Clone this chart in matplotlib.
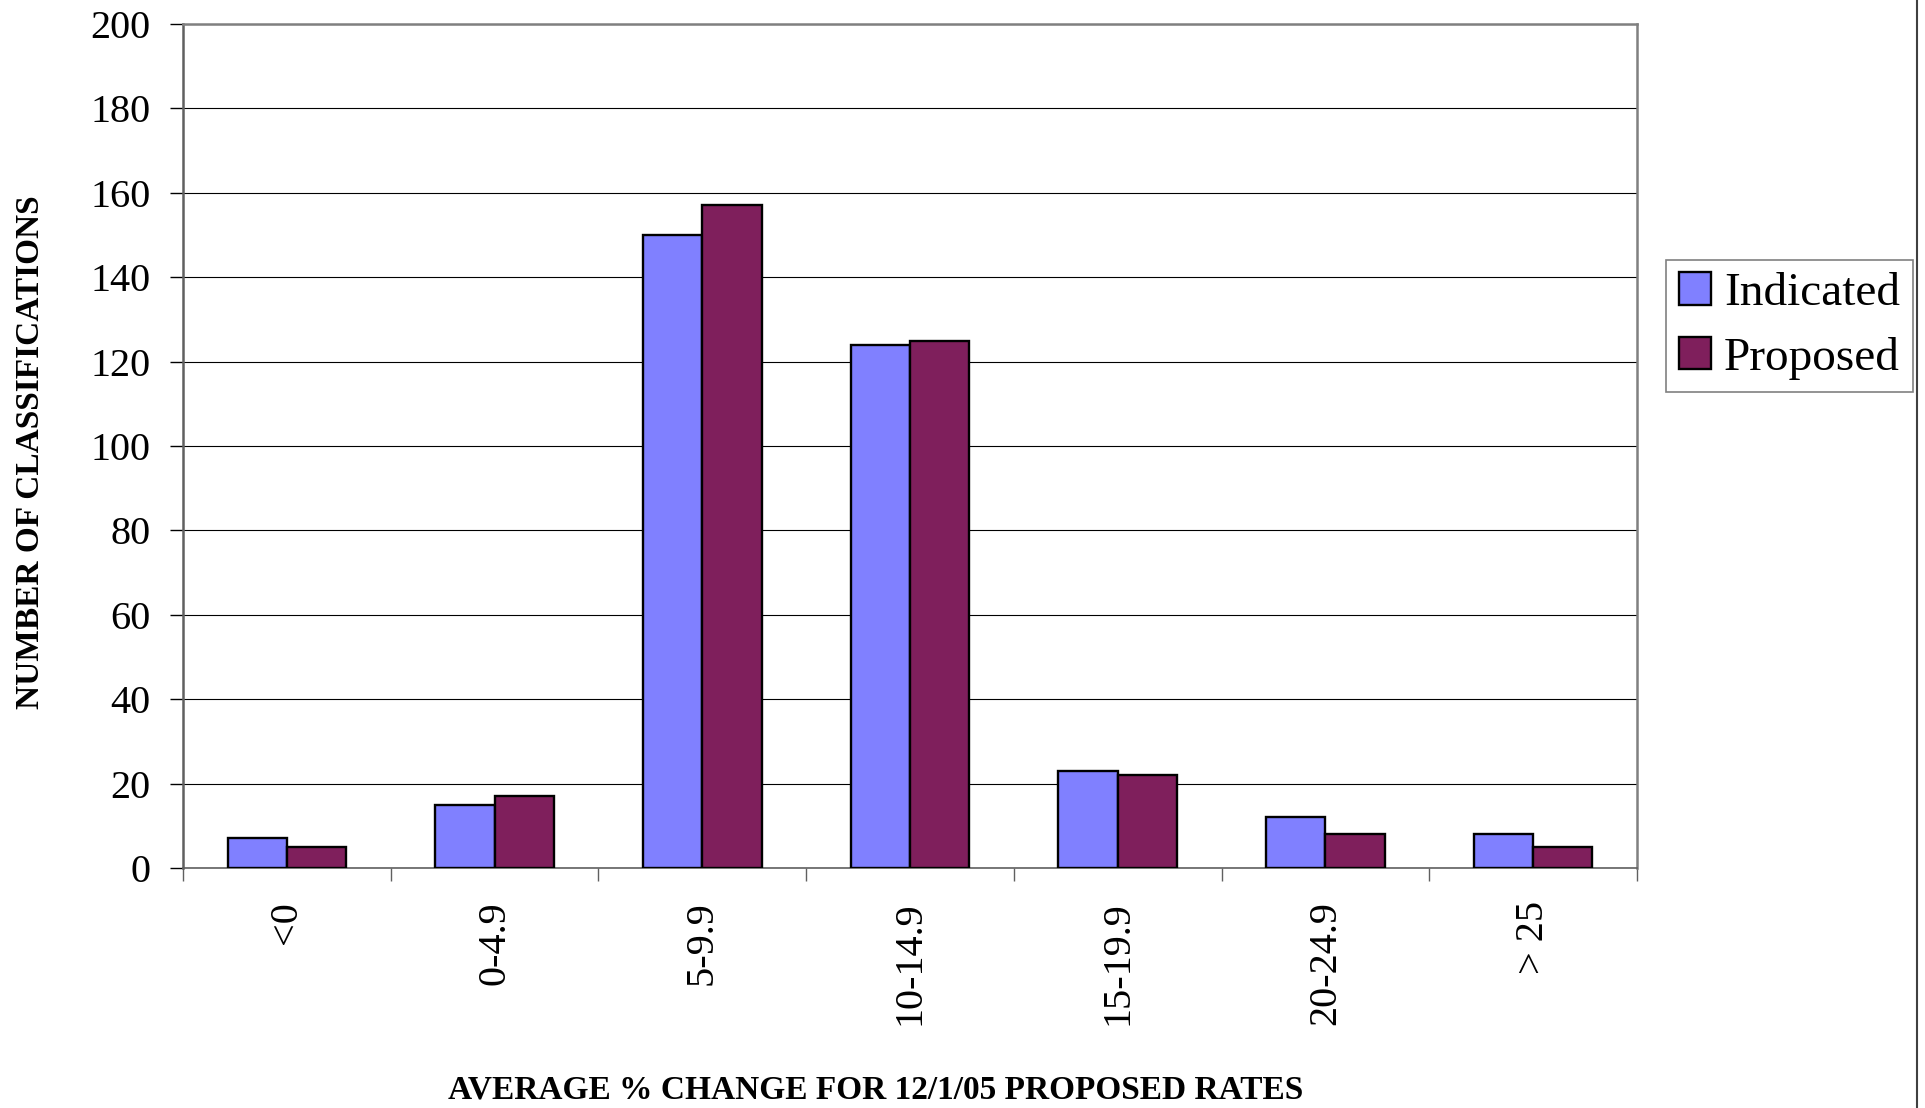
import matplotlib
matplotlib.use('Agg')
import matplotlib.pyplot as plt
from matplotlib.lines import Line2D
import numpy as np

# data
categories = ['<0', '0-4.9', '5-9.9', '10-14.9', '15-19.9', '20-24.9', '> 25']
indicated = [7, 15, 150, 124, 23, 12, 8]
proposed = [5, 17, 157, 125, 22, 8, 5]
series_labels = ['Indicated', 'Proposed']
y_ticks = list(range(0, 201, 20))

colors = ['#8080FF', '#7F1F5C']
plt.rcParams['font.family'] = ['Liberation Serif', 'DejaVu Serif']

fig = plt.figure(figsize=(19.25, 11.08), dpi=100)
ax = fig.add_axes([183 / 1925, 1 - 868 / 1108, (1637 - 183) / 1925, (868 - 24) / 1108])

x = np.arange(len(categories))
width = 1 / 3.5  # excel gap width 150%

ax.bar(x - width / 2, indicated, width, color=colors[0], edgecolor='black',
       linewidth=1.7, label=series_labels[0], zorder=3)
ax.bar(x + width / 2, proposed, width, color=colors[1], edgecolor='black',
       linewidth=1.7, label=series_labels[1], zorder=3)

ax.set_xlim(-0.5, len(categories) - 0.5)
ax.set_ylim(0, 200)
ax.set_yticks(y_ticks)
ax.set_yticklabels([str(v) for v in y_ticks], fontsize=29)
ax.yaxis.grid(True, color='black', linewidth=0.8, zorder=0)
ax.tick_params(axis='y', length=9.5, width=1, color='black', pad=14)

ax.set_xticks(x)
ax.set_xticklabels(categories, rotation=90, fontsize=29)
ax.set_xticks(np.arange(len(categories) + 1) - 0.5, minor=True)
ax.tick_params(axis='x', which='major', length=0, pad=24)
ax.tick_params(axis='x', which='minor', length=9.5, width=1, color='#606060')

for side in ['left', 'top', 'right']:
    ax.spines[side].set_color('#808080')
    ax.spines[side].set_linewidth(1.8)
ax.spines['left'].set_color('#606060')
ax.spines['bottom'].set_color('#606060')
ax.spines['bottom'].set_linewidth(1.2)

fig.text(31 / 1925, 1 - 452 / 1108, 'NUMBER OF CLASSIFICATIONS', rotation=90,
         fontsize=24, fontweight='bold', ha='center', va='center')
fig.text(876 / 1925, 1 - 1090 / 1108, 'AVERAGE % CHANGE FOR 12/1/05 PROPOSED RATES',
         fontsize=24, fontweight='bold', ha='center', va='center')

leg = ax.legend(loc='center left', bbox_to_anchor=(1666 / 1925, 1 - 326 / 1108),
                bbox_transform=fig.transFigure, fontsize=34, frameon=True,
                fancybox=False, edgecolor='#808080', framealpha=1,
                handlelength=0.68, handleheight=0.68, handletextpad=0.28,
                borderpad=0.27, labelspacing=0.46, borderaxespad=0)
leg.get_frame().set_linewidth(1.2)

# outer chart border on the right edge
fig.add_artist(Line2D([1917 / 1925, 1917 / 1925], [0, 1], transform=fig.transFigure,
                      color='#404040', linewidth=1.5))

plt.savefig('out.png', dpi=100)
